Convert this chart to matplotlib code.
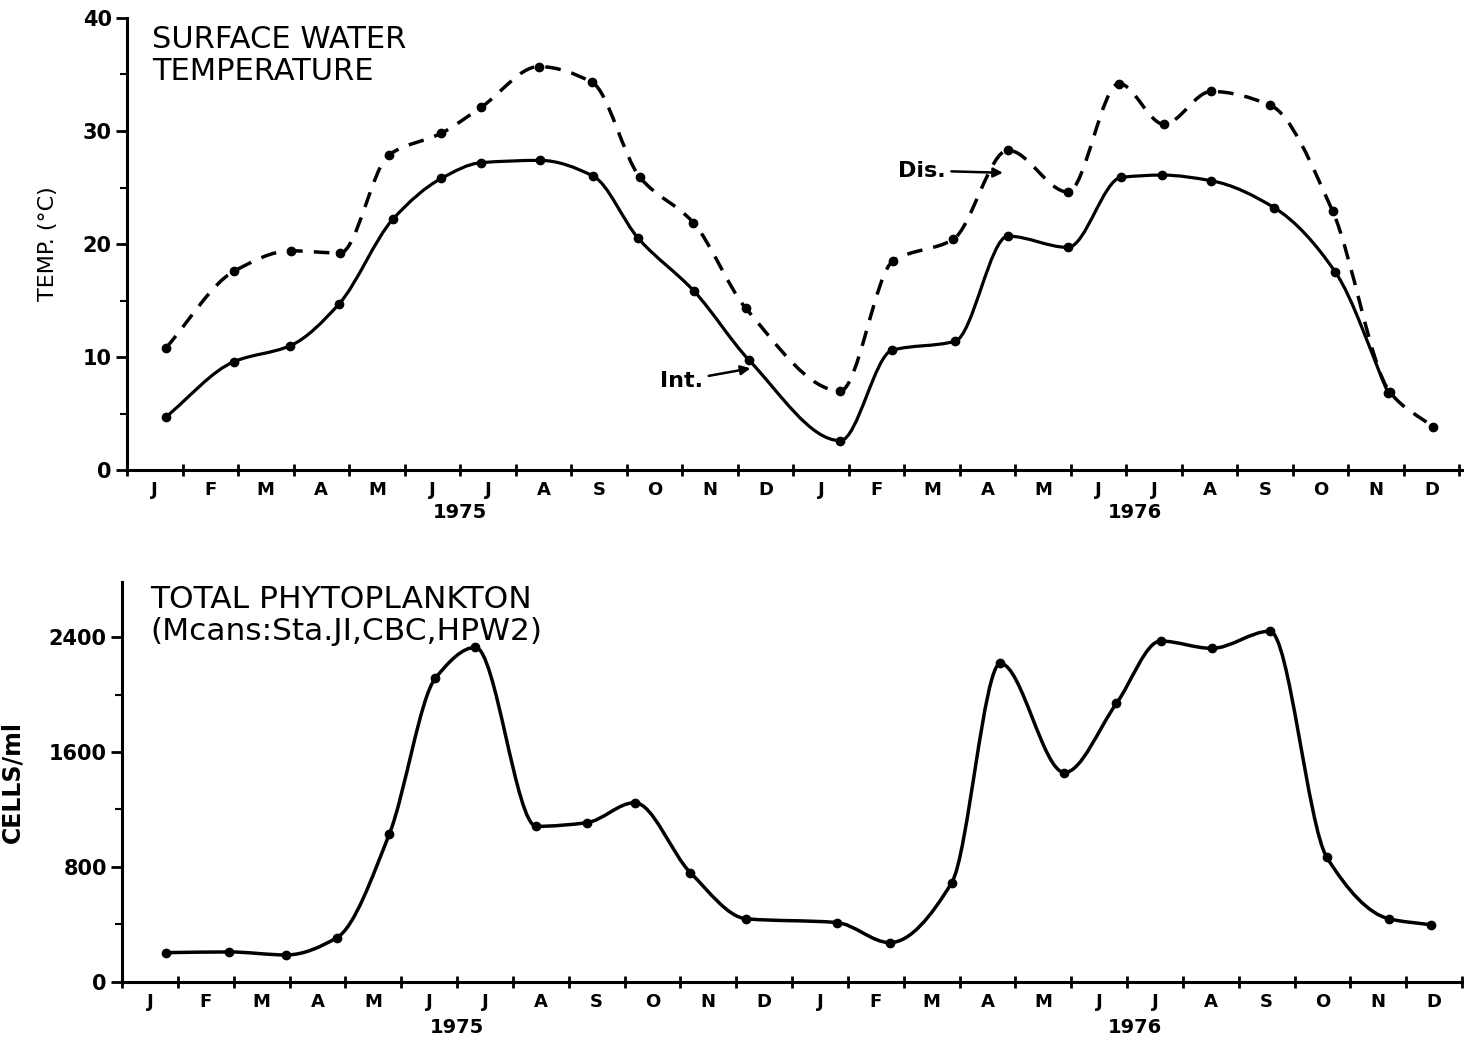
import numpy as np
import matplotlib
matplotlib.use('Agg')
import matplotlib.pyplot as plt
from matplotlib.path import Path
from matplotlib.patches import PathPatch

# x positions are in months from Jan 1975 (0 = start of Jan 1975)
months = ['J', 'F', 'M', 'A', 'M', 'J', 'J', 'A', 'S', 'O', 'N', 'D'] * 2
years = ['1975', '1976']

# Surface water temperature (deg C)
int_x = [0.70, 1.93, 2.94, 3.82, 4.79, 5.66, 6.38, 7.44, 8.40, 9.21, 10.22, 11.21,
         12.85, 13.78, 14.92, 15.87, 16.95, 17.91, 18.65, 19.53, 20.67, 21.77, 22.72]
int_t = [4.7, 9.6, 11.0, 14.7, 22.2, 25.8, 27.2, 27.4, 26.0, 20.5, 15.8, 9.7,
         2.6, 10.6, 11.4, 20.7, 19.7, 25.9, 26.1, 25.6, 23.2, 17.5, 6.8]

dis_x = [0.70, 1.93, 2.95, 3.84, 4.72, 5.66, 6.38, 7.42, 8.38, 9.24, 10.20, 11.15,
         12.85, 13.80, 14.88, 15.87, 16.95, 17.87, 18.68, 19.53, 20.59, 21.72, 22.75, 23.53]
dis_t = [10.8, 17.6, 19.4, 19.2, 27.9, 29.8, 32.1, 35.7, 34.3, 25.9, 21.9, 14.3,
         7.0, 18.5, 20.4, 28.3, 24.6, 34.2, 30.6, 33.5, 32.3, 22.9, 6.9, 3.8]

# Total phytoplankton (cells/ml)
phy_x = [0.79, 1.92, 2.94, 3.85, 4.79, 5.61, 6.33, 7.42, 8.32, 9.18, 10.18, 11.18,
         12.80, 13.75, 14.86, 15.73, 16.88, 17.81, 18.60, 19.52, 20.56, 21.58, 22.69, 23.44]
phy_c = [202, 207, 186, 307, 1031, 2113, 2329, 1082, 1107, 1247, 759, 438,
         412, 272, 689, 2217, 1457, 1938, 2373, 2322, 2442, 865, 438, 396]


def smooth_path(xs, ys):
    # monotone cubic (Fritsch-Carlson tangents) drawn as Bezier segments
    x = np.asarray(xs, float)
    y = np.asarray(ys, float)
    h = np.diff(x)
    d = np.diff(y) / h
    n = len(x)
    m = np.zeros(n)
    m[0], m[-1] = d[0], d[-1]
    for k in range(1, n - 1):
        if d[k - 1] * d[k] > 0:
            w1 = 2 * h[k] + h[k - 1]
            w2 = h[k] + 2 * h[k - 1]
            m[k] = (w1 + w2) / (w1 / d[k - 1] + w2 / d[k])
    verts = [(x[0], y[0])]
    codes = [Path.MOVETO]
    for k in range(n - 1):
        verts += [(x[k] + h[k] / 3, y[k] + m[k] * h[k] / 3),
                  (x[k + 1] - h[k] / 3, y[k + 1] - m[k + 1] * h[k] / 3),
                  (x[k + 1], y[k + 1])]
        codes += [Path.CURVE4] * 3
    return Path(verts, codes)


def style_axis(ax, ymax, year_off):
    ax.set_xlim(0, 24.05)
    ax.set_ylim(0, ymax)
    ax.spines['top'].set_visible(False)
    ax.spines['right'].set_visible(False)
    ax.spines['left'].set_linewidth(2.2)
    ax.spines['bottom'].set_linewidth(2.2)
    ax.set_xticks(np.arange(0, 25))
    ax.set_xticklabels([])
    ax.set_xticks(np.arange(0.5, 24), minor=True)
    ax.set_xticklabels(months, minor=True, fontsize=13, fontweight='bold')
    ax.tick_params(axis='x', which='major', direction='inout', length=9, width=2)
    ax.tick_params(axis='x', which='minor', length=0, pad=8)
    ax.tick_params(axis='y', which='major', direction='out', length=8, width=2,
                   labelsize=15, pad=3)
    ax.tick_params(axis='y', which='minor', direction='out', length=5, width=1.5)
    for lab in ax.get_yticklabels():
        lab.set_fontweight('bold')
    for xm, yr in zip([6.0, 18.15], years):
        ax.annotate(yr, xy=(xm, 0), xycoords=('data', 'axes fraction'),
                    xytext=(0, -year_off), textcoords='offset points',
                    ha='center', va='top', fontsize=14, fontweight='bold')


fig = plt.figure(figsize=(14.67, 10.39), dpi=100)

# ---------------- top panel: temperature ----------------
ax1 = fig.add_axes([0.0866, 0.5476, 0.9100, 0.4351])
ax1.set_yticks([0, 10, 20, 30, 40])
ax1.set_yticks([5, 15, 25, 35], minor=True)
style_axis(ax1, 40, 24)

ax1.add_patch(PathPatch(smooth_path(int_x, int_t), fill=False, lw=2.3,
                        edgecolor='black', capstyle='round'))
ax1.add_patch(PathPatch(smooth_path(dis_x, dis_t), fill=False, lw=2.5,
                        edgecolor='black', linestyle=(0, (4.5, 3.2))))
ax1.plot(int_x, int_t, 'o', color='black', ms=6)
ax1.plot(dis_x, dis_t, 'o', color='black', ms=6)

ax1.text(0.45, 39.4, 'SURFACE WATER\nTEMPERATURE', fontsize=22, va='top',
         ha='left', linespacing=1.15)
ax1.set_ylabel('TEMP. (°C)', fontsize=16)
ax1.yaxis.set_label_coords(-0.052, 0.5)

ax1.annotate('Dis.', xy=(15.78, 26.3), xytext=(14.75, 26.5), ha='right', va='center',
             fontsize=16, fontweight='bold',
             arrowprops=dict(arrowstyle='-|>', color='black', lw=1.8,
                             shrinkA=2, shrinkB=0, mutation_scale=14))
ax1.annotate('Int.', xy=(11.23, 9.0), xytext=(10.38, 7.9), ha='right', va='center',
             fontsize=16, fontweight='bold',
             arrowprops=dict(arrowstyle='-|>', color='black', lw=1.8,
                             shrinkA=2, shrinkB=0, mutation_scale=14))

# ---------------- bottom panel: phytoplankton ----------------
ax2 = fig.add_axes([0.0832, 0.0552, 0.9134, 0.3846])
ax2.set_yticks([0, 800, 1600, 2400])
ax2.set_yticks([400, 1200, 2000], minor=True)
style_axis(ax2, 2784, 26)
ax2.set_xlim(0, 24.0)

ax2.add_patch(PathPatch(smooth_path(phy_x, phy_c), fill=False, lw=2.5,
                        edgecolor='black'))
ax2.plot(phy_x, phy_c, 'o', color='black', ms=6)

ax2.text(0.5, 2760, 'TOTAL PHYTOPLANKTON\n(Mcans:Sta.JI,CBC,HPW2)', fontsize=22.5,
         va='top', ha='left', linespacing=1.1)
ax2.set_ylabel('CELLS/ml', fontsize=17, fontweight='bold')
ax2.yaxis.set_label_coords(-0.073, 0.5)

fig.savefig('out.png', dpi=100, facecolor='white')
